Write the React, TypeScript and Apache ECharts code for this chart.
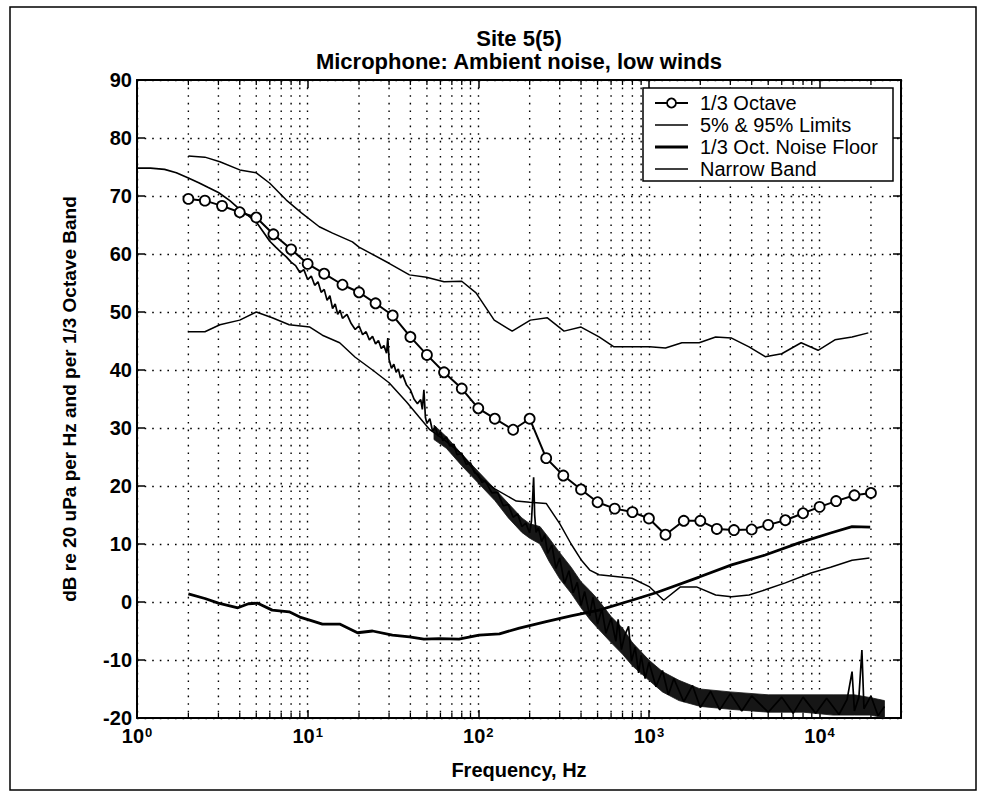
import React, { useEffect, useRef } from "react";
import * as echarts from "echarts";

// ---------- data ----------
const octaveFreq = [2, 2.5, 3.15, 4, 5, 6.3, 8, 10, 12.5, 16, 20, 25, 31.5, 40, 50, 63, 80, 100, 125, 160, 200, 250, 315, 400, 500, 630, 800, 1000, 1250, 1600, 2000, 2500, 3150, 4000, 5000, 6300, 8000, 10000, 12500, 16000, 20000];
const octaveVal = [69.5, 69.2, 68.3, 67.2, 66.3, 63.4, 60.8, 58.3, 56.6, 54.7, 53.4, 51.5, 49.4, 45.7, 42.6, 39.6, 36.8, 33.4, 31.6, 29.7, 31.6, 24.8, 21.8, 19.4, 17.2, 16.1, 15.5, 14.4, 11.6, 14.0, 14.0, 12.6, 12.4, 12.5, 13.3, 14.1, 15.3, 16.4, 17.4, 18.4, 18.8];

const upperLimit: [number, number][] = [
  [2, 76.9], [2.5, 76.7], [3.06, 75.9], [4, 74.5], [5, 74.0], [6, 72.2], [7.5, 69.3], [9.2, 67.1],
  [11.7, 64.7], [14, 63.6], [18.3, 62.1], [20, 61.2], [30, 58.4], [39.5, 56.4], [49.7, 56.0], [63, 55.2],
  [80, 55.3], [97, 53.3], [124, 48.6], [158, 46.7], [202, 48.6], [254, 49.0], [318, 46.7], [400, 47.4],
  [510, 45.7], [624, 44.0], [1010, 44.0], [1250, 43.8], [1560, 44.7], [1970, 44.7], [2460, 45.7],
  [3050, 45.5], [3860, 44.0], [4800, 42.3], [6000, 42.8], [7800, 44.7], [9800, 43.4], [12300, 45.2],
  [15500, 45.7], [19300, 46.4],
];

const lowerLimit: [number, number][] = [
  [2, 46.6], [2.5, 46.6], [3.06, 47.8], [4, 48.6], [5, 50.0], [6.2, 49.0], [7.8, 47.8], [10.3, 47.4],
  [12.2, 46.0], [15.4, 44.7], [19, 42.2], [24, 40.0], [30, 37.8], [38, 34.5], [45, 31.9], [52, 29.7],
  [63, 28.0], [80, 25.5], [101, 21.5], [125, 19.5], [167, 17.4], [200, 17.2], [250, 17.0], [300, 13.5],
  [350, 10.0], [400, 7.3], [450, 5.5], [510, 4.7], [795, 4.1], [1010, 2.6], [1220, 0.3], [1530, 2.6],
  [1900, 2.6], [2460, 1.2], [3050, 0.9], [3860, 1.2], [4800, 2.1], [6300, 3.3], [8900, 5.0],
  [11600, 6.0], [15500, 7.2], [19600, 7.6],
];

const noiseFloor: [number, number][] = [
  [2, 1.4], [2.5, 0.6], [3, -0.2], [3.9, -1.0], [4.5, -0.3], [5.1, -0.2], [6.2, -1.4], [7.8, -1.7],
  [9, -2.6], [10.5, -3.2], [12.2, -3.8], [15.4, -3.8], [19.6, -5.3], [24, -5.0], [31.4, -5.7],
  [39.5, -6.0], [48, -6.4], [59, -6.3], [77, -6.4], [101, -5.7], [133, -5.5], [174, -4.5], [250, -3.4],
  [350, -2.4], [510, -1.4], [795, 0.3], [1100, 1.6], [1970, 4.3], [3050, 6.4], [4800, 8.1],
  [7580, 10.2], [11600, 11.9], [15500, 13.0], [19800, 12.9],
];

const narrowBand: [number, number][] = [
  [1, 74.8], [1.2, 74.8], [1.45, 74.6], [1.7, 74.0], [2, 73.1], [2.3, 72.3], [2.6, 71.5], [3, 70.6],
  [3.5, 69.2], [4, 67.7], [4.5, 66.6], [5, 65.5], [5.5, 63.8], [6, 62.2], [6.5, 61.2], [7, 60.3],
  [7.5, 59.5], [8, 58.6], [8.5, 58.0], [9, 56.8], [9.5, 57.3], [10, 55.6], [10.5, 56.2], [11, 54.6],
  [11.5, 55.2], [12, 53.4], [12.5, 53.9], [13, 52.0], [13.5, 52.8], [14, 50.6], [14.5, 51.4], [15, 49.6],
  [15.5, 50.3], [16, 48.9], [17, 49.6], [18, 48.0], [19, 47.0], [20, 47.6], [21, 46.1], [22, 46.6],
  [23, 45.2], [24, 45.8], [25, 44.5], [26, 45.1], [27, 43.7], [28, 44.2], [29, 42.9], [29.5, 45.5],
  [30, 41.8], [31, 40.3], [32, 41.0], [33, 39.6], [34, 40.2], [35, 38.6], [36, 39.2], [38, 37.4],
  [40, 36.6], [42, 35.0], [44, 34.2], [46, 34.9], [47, 33.2], [48, 36.6], [49, 31.8], [50, 30.8],
  [52, 31.6], [54, 29.4], [56, 30.2], [58, 28.6], [60, 29.3], [62, 27.8], [65, 28.5], [68, 26.9],
  [72, 27.2], [75, 25.4], [80, 25.6], [85, 23.7], [90, 24.0], [95, 22.3], [100, 22.0], [105, 20.6],
  [110, 20.9], [120, 18.8], [130, 18.9], [140, 16.6], [150, 16.8], [160, 14.6], [170, 15.2], [180, 13.0],
  [190, 13.6], [200, 11.9], [205, 14.0], [208, 17.5], [211, 21.5], [214, 15.0], [218, 12.0], [225, 12.8],
  [235, 10.4], [245, 11.6], [255, 8.4], [270, 9.8], [285, 5.8], [300, 7.6], [320, 3.2], [340, 5.4],
  [360, 1.6], [380, 3.4], [400, -0.6], [420, 1.8], [450, -2.4], [470, 0.8], [500, -3.8], [530, -1.2],
  [560, -5.4], [600, -2.8], [640, -6.8], [660, -3.0], [690, -8.2], [720, -5.8], [760, -4.2], [790, -10.2],
  [830, -7.8], [870, -12.2], [900, -9.2], [950, -13.2], [1000, -10.4], [1100, -14.6], [1200, -11.8],
  [1300, -16.0], [1400, -13.2], [1600, -17.2], [1800, -14.4], [2000, -18.2], [2300, -15.4], [2600, -18.6],
  [3000, -15.8], [3500, -18.8], [4000, -16.2], [5000, -19.0], [6000, -16.4], [7000, -19.2], [8000, -16.4],
  [9500, -19.2], [11000, -16.6], [13000, -19.4], [14500, -16.8], [15500, -12.0], [16000, -18.8],
  [17000, -16.4], [17700, -8.3], [18200, -18.4], [20000, -16.2], [22000, -19.6], [24000, -18.0],
];

// dense part of the narrow-band spectrum: lower / upper edge of the black hash
const bandFreq = [55, 65, 80, 100, 125, 150, 180, 200, 230, 260, 300, 350, 400, 450, 500, 600, 700, 800, 1000, 1200, 1500, 2000, 3000, 5000, 8000, 12000, 16000, 20000, 24000];
const bandLow = [28, 26.5, 23.5, 20.5, 17.5, 14.5, 12, 11, 10, 7, 4, 1.5, -1, -3, -4.5, -7, -9, -11, -13.5, -15.5, -17, -18, -18.5, -19, -19, -19.5, -19.5, -19.5, -20];
const bandHigh = [30.5, 28.5, 25.5, 22.5, 19.5, 17, 14.5, 13.5, 13, 11, 8.5, 6, 3.5, 2, 0.5, -2.5, -4.5, -7, -10, -12, -13.5, -15, -15.5, -16, -16, -16, -16, -16.5, -17];

const legendNames = ["1/3 Octave", "5% & 95% Limits", "1/3 Oct. Noise Floor", "Narrow Band"];

const xMin = 1;
const xMax = 30000;
const yMin = -20;
const yMax = 90;
const yStep = 10;
const decades = [1, 10, 100, 1000, 10000];
const minorSteps = [2, 3, 4, 5, 6, 7, 8, 9];

const FONT = "'Liberation Sans', Arial, Helvetica, sans-serif";
const LW = { octave: 2, limits: 1.5, floor: 2.8, narrow: 1.7 };

export default function App() {
  const ref = useRef<HTMLDivElement>(null);

  useEffect(() => {
    if (!ref.current) return;
    const chart = echarts.init(ref.current, undefined, { renderer: "svg" });

    const minorVals: number[] = [];
    decades.forEach((d) => minorSteps.forEach((k) => { if (d * k < xMax) minorVals.push(d * k); }));

    const dotted = { color: "#000", width: 1.4, type: [1.6, 6] as number[] };

    // legend drawn as graphic elements
    const lgX = 643, lgY = 88, lgW = 250, lgH = 93, rowH = 22;
    const legendWidths = [LW.octave, LW.limits, LW.floor, LW.narrow];
    const legendGraphics: any[] = [
      { type: "rect", z: 100, shape: { x: lgX, y: lgY, width: lgW, height: lgH }, style: { fill: "#fff", stroke: "#000", lineWidth: 1.5 } },
    ];
    legendNames.forEach((nm, i) => {
      const cy = lgY + 15 + i * rowH;
      legendGraphics.push({ type: "line", z: 101, shape: { x1: lgX + 12, y1: cy, x2: lgX + 45, y2: cy }, style: { stroke: "#000", lineWidth: legendWidths[i] } });
      if (i === 0) {
        legendGraphics.push({ type: "circle", z: 102, shape: { cx: lgX + 28.5, cy, r: 4.5 }, style: { fill: "#fff", stroke: "#000", lineWidth: 1.8 } });
      }
      legendGraphics.push({ type: "text", z: 101, x: lgX + 57, y: cy, style: { text: nm, textVerticalAlign: "middle", font: `20px ${FONT}`, fill: "#000" } });
    });

    const axisX = (pos: string, labels: boolean) => ({
      type: "log", logBase: 10, min: xMin, max: xMax, position: pos,
      axisLine: { show: true, onZero: false, lineStyle: { color: "#000", width: 2 } },
      axisTick: { show: true, inside: true, length: 8, lineStyle: { color: "#000", width: 1.5 } },
      splitLine: { show: labels, lineStyle: dotted },
      axisLabel: labels ? {
        color: "#000", margin: 8,
        formatter: (v: number) => {
          const e = Math.log10(v);
          if (Math.abs(e - Math.round(e)) > 1e-6) return "";
          return `{b|10}{s|${Math.round(e)}}`;
        },
        rich: {
          b: { fontSize: 20, fontWeight: "bold", fontFamily: FONT, color: "#000", verticalAlign: "bottom", lineHeight: 20 },
          s: { fontSize: 13, fontWeight: "bold", fontFamily: FONT, color: "#000", verticalAlign: "top", lineHeight: 13, padding: [0, 0, 12, 1] },
        },
      } : { show: false },
      ...(labels ? {
        name: "Frequency, Hz", nameLocation: "middle", nameGap: 42,
        nameTextStyle: { fontSize: 20, fontWeight: "bold", fontFamily: FONT, color: "#000" },
      } : {}),
    });

    const option: any = {
      animation: false,
      backgroundColor: "#fff",
      grid: { left: 137, top: 80, right: 83, bottom: 85, containLabel: false },
      xAxis: [axisX("bottom", true), axisX("top", false)],
      yAxis: [
        {
          type: "value", min: yMin, max: yMax, interval: yStep, position: "left",
          axisLine: { show: true, onZero: false, lineStyle: { color: "#000", width: 2 } },
          axisTick: { show: true, inside: true, length: 8, lineStyle: { color: "#000", width: 1.5 } },
          splitLine: { show: true, lineStyle: dotted },
          axisLabel: { color: "#000", fontSize: 20, fontWeight: "bold", fontFamily: FONT, margin: 5 },
          name: "dB re 20 uPa per Hz and per 1/3 Octave Band", nameLocation: "middle", nameGap: 58, nameRotate: 90,
          nameTextStyle: { fontSize: 19, fontWeight: "bold", fontFamily: FONT, color: "#000" },
        },
        {
          type: "value", min: yMin, max: yMax, interval: yStep, position: "right",
          axisLine: { show: true, onZero: false, lineStyle: { color: "#000", width: 2 } },
          axisTick: { show: true, inside: true, length: 8, lineStyle: { color: "#000", width: 1.5 } },
          axisLabel: { show: false }, splitLine: { show: false },
        },
      ],
      graphic: [
        { type: "rect", shape: { x: 10, y: 7, width: 966, height: 783 }, style: { fill: "none", stroke: "#000", lineWidth: 1.5 }, silent: true, z: -10 },
        { type: "text", x: 519, y: 38, style: { text: "Site 5(5)", textAlign: "center", textVerticalAlign: "middle", font: `bold 22px ${FONT}`, fill: "#000" } },
        { type: "text", x: 519, y: 61, style: { text: "Microphone: Ambient noise, low winds", textAlign: "center", textVerticalAlign: "middle", font: `bold 22px ${FONT}`, fill: "#000" } },
        ...legendGraphics,
      ],
      series: [
        {
          name: "minor grid", type: "custom", coordinateSystem: "cartesian2d", silent: true, z: 1,
          data: minorVals.map((v) => [v, 0]),
          renderItem: (params: any, api: any) => {
            const cs = params.coordSys;
            const x = api.coord([api.value(0), 0])[0];
            return {
              type: "group",
              children: [
                { type: "line", shape: { x1: x, y1: cs.y, x2: x, y2: cs.y + cs.height }, style: { stroke: "#000", lineWidth: 1.4, lineDash: [1.6, 6] } },
                { type: "line", shape: { x1: x, y1: cs.y + cs.height, x2: x, y2: cs.y + cs.height - 5 }, style: { stroke: "#000", lineWidth: 1.3 } },
                { type: "line", shape: { x1: x, y1: cs.y, x2: x, y2: cs.y + 5 }, style: { stroke: "#000", lineWidth: 1.3 } },
              ],
            };
          },
        },
        {
          name: "narrow band hash", type: "custom", coordinateSystem: "cartesian2d", silent: true, z: 2,
          data: [[1000, 0]],
          renderItem: (params: any, api: any) => {
            const pts: number[][] = [];
            bandFreq.forEach((f, i) => pts.push(api.coord([f, bandHigh[i]])));
            for (let i = bandFreq.length - 1; i >= 0; i--) pts.push(api.coord([bandFreq[i], bandLow[i]]));
            return { type: "polygon", shape: { points: pts }, style: { fill: "#161616", stroke: "#161616", lineWidth: 0.8 } };
          },
        },
        {
          name: "Narrow Band", type: "line", data: narrowBand, symbol: "none", z: 3,
          lineStyle: { color: "#000", width: LW.narrow }, itemStyle: { color: "#000" },
        },
        {
          name: "5% & 95% Limits", type: "line", data: upperLimit, symbol: "none", z: 3,
          lineStyle: { color: "#000", width: LW.limits }, itemStyle: { color: "#000" },
        },
        {
          name: "5% & 95% Limits", type: "line", data: lowerLimit, symbol: "none", z: 3,
          lineStyle: { color: "#000", width: LW.limits }, itemStyle: { color: "#000" },
        },
        {
          name: "1/3 Oct. Noise Floor", type: "line", data: noiseFloor, symbol: "none", z: 4,
          lineStyle: { color: "#000", width: LW.floor }, itemStyle: { color: "#000" },
        },
        {
          name: "1/3 Octave", type: "line", data: octaveFreq.map((f, i) => [f, octaveVal[i]]), z: 5,
          symbol: "circle", symbolSize: 10, showAllSymbol: true,
          lineStyle: { color: "#000", width: LW.octave },
          itemStyle: { color: "#fff", borderColor: "#000", borderWidth: 1.8 },
        },
      ],
    };

    chart.setOption(option);
    return () => chart.dispose();
  }, []);

  return <div ref={ref} style={{ position: "fixed", left: 0, top: 0, width: 984, height: 803, background: "#fff" }} />;
}
